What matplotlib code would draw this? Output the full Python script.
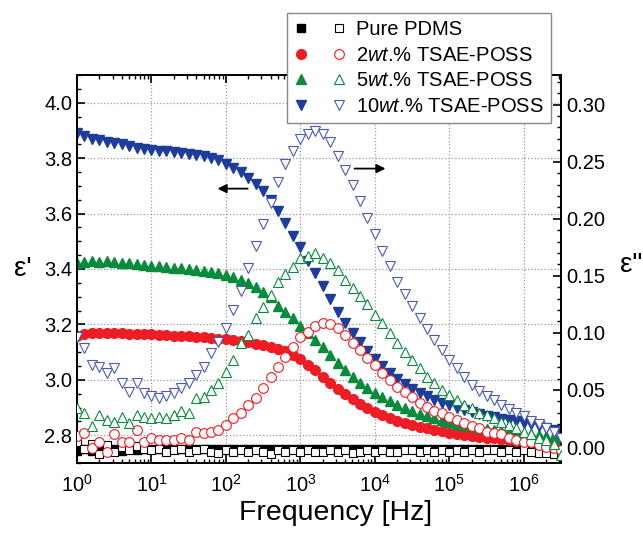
import numpy as np
import matplotlib
matplotlib.use("Agg")
import matplotlib.pyplot as plt
from matplotlib.legend_handler import HandlerTuple
from matplotlib.ticker import FixedLocator, MultipleLocator, NullFormatter, LogFormatterSciNotation

plt.rcParams['font.family'] = ['Liberation Sans', 'DejaVu Sans']
plt.rcParams['mathtext.fontset'] = 'custom'
plt.rcParams['mathtext.rm'] = 'Liberation Sans'
plt.rcParams['mathtext.it'] = 'Liberation Sans:italic'
plt.rcParams['mathtext.default'] = 'regular'

# ---------------- data ----------------
freq = 10 ** (np.arange(66) / 10.0)   # Hz, 10 points per decade

labels = ["Pure PDMS", r"2$\mathit{wt}$.% TSAE-POSS",
          r"5$\mathit{wt}$.% TSAE-POSS", r"10$\mathit{wt}$.% TSAE-POSS"]

eps1_pdms = [2.745, 2.750, 2.742, 2.755, 2.748, 2.752, 2.745, 2.750, 2.748, 2.751,
             2.750, 2.749, 2.751, 2.750, 2.752, 2.751, 2.750, 2.752, 2.751, 2.752,
             2.752, 2.751, 2.752, 2.752, 2.751, 2.752, 2.752, 2.752, 2.751, 2.752,
             2.752, 2.752, 2.752, 2.752, 2.752, 2.752, 2.752, 2.752, 2.752, 2.752,
             2.752, 2.752, 2.752, 2.752, 2.752, 2.752, 2.752, 2.752, 2.752, 2.752,
             2.752, 2.752, 2.752, 2.752, 2.752, 2.751, 2.751, 2.751, 2.750, 2.750,
             2.749, 2.748, 2.747, 2.746, 2.745, 2.743]
eps2_pdms = [0.004, -0.002, 0.003, -0.006, 0.002, -0.004, 0.000, -0.003, 0.001, -0.002,
             -0.003, -0.002, -0.004, -0.003, -0.002, -0.004, -0.003, -0.002, -0.004, -0.005,
             -0.003, -0.004, -0.003, -0.004, -0.003, -0.004, -0.006, -0.003, -0.004, -0.003,
             -0.004, -0.003, -0.004, -0.004, -0.003, -0.004, -0.003, -0.005, -0.004, -0.003,
             -0.004, -0.003, -0.004, -0.004, -0.003, -0.003, -0.004, -0.003, -0.004, -0.003,
             -0.004, -0.003, -0.004, -0.003, -0.004, -0.003, -0.003, -0.004, -0.003, -0.004,
             -0.003, -0.004, -0.005, -0.005, -0.006, -0.007]

eps1_2 = [3.160, 3.165, 3.168, 3.168, 3.170, 3.168, 3.168, 3.167, 3.166, 3.165,
          3.164, 3.163, 3.162, 3.160, 3.159, 3.157, 3.155, 3.153, 3.151, 3.149,
          3.146, 3.143, 3.140, 3.136, 3.131, 3.126, 3.120, 3.112, 3.103, 3.090,
          3.075, 3.055, 3.035, 3.012, 2.990, 2.968, 2.948, 2.930, 2.913, 2.898,
          2.885, 2.873, 2.862, 2.853, 2.845, 2.838, 2.831, 2.825, 2.820, 2.815,
          2.810, 2.806, 2.802, 2.798, 2.795, 2.792, 2.789, 2.786, 2.783, 2.780,
          2.777, 2.774, 2.771, 2.768, 2.765, 2.762]
eps2_2 = [0.010, 0.012, -0.001, 0.004, -0.004, 0.011, 0.004, 0.004, 0.015, 0.004,
          0.008, 0.006, 0.006, 0.006, 0.008, 0.006, 0.013, 0.012, 0.013, 0.015,
          0.019, 0.025, 0.030, 0.037, 0.043, 0.052, 0.061, 0.070, 0.079, 0.088,
          0.096, 0.101, 0.106, 0.109, 0.108, 0.104, 0.098, 0.091, 0.085, 0.078,
          0.072, 0.065, 0.059, 0.053, 0.048, 0.044, 0.039, 0.035, 0.032, 0.030,
          0.026, 0.024, 0.021, 0.018, 0.017, 0.013, 0.012, 0.011, 0.008, 0.006,
          0.004, 0.004, 0.002, 0.000, -0.001, -0.003]

eps1_5 = [3.420, 3.425, 3.430, 3.425, 3.428, 3.425, 3.420, 3.423, 3.418, 3.415,
          3.412, 3.410, 3.408, 3.405, 3.402, 3.400, 3.397, 3.393, 3.390, 3.386,
          3.380, 3.372, 3.362, 3.350, 3.335, 3.318, 3.300, 3.268, 3.245, 3.222,
          3.195, 3.170, 3.143, 3.117, 3.090, 3.060, 3.035, 3.010, 2.990, 2.972,
          2.952, 2.937, 2.922, 2.910, 2.898, 2.887, 2.878, 2.869, 2.861, 2.854,
          2.848, 2.842, 2.837, 2.832, 2.828, 2.824, 2.820, 2.817, 2.814, 2.811,
          2.808, 2.805, 2.802, 2.799, 2.796, 2.792]
eps2_5 = [0.034, 0.030, 0.018, 0.028, 0.024, 0.022, 0.026, 0.021, 0.028, 0.026,
          0.025, 0.026, 0.025, 0.028, 0.032, 0.030, 0.043, 0.044, 0.050, 0.056,
          0.066, 0.076, 0.091, 0.098, 0.113, 0.123, 0.133, 0.145, 0.152, 0.158,
          0.166, 0.167, 0.170, 0.166, 0.161, 0.155, 0.146, 0.139, 0.132, 0.125,
          0.116, 0.109, 0.100, 0.091, 0.083, 0.076, 0.069, 0.061, 0.056, 0.050,
          0.046, 0.041, 0.037, 0.034, 0.030, 0.028, 0.025, 0.022, 0.019, 0.017,
          0.013, 0.011, 0.008, 0.006, 0.003, -0.007]

eps1_10 = [3.892, 3.880, 3.870, 3.867, 3.860, 3.855, 3.850, 3.845, 3.838, 3.834,
           3.830, 3.827, 3.824, 3.822, 3.820, 3.816, 3.812, 3.808, 3.800, 3.793,
           3.780, 3.765, 3.750, 3.728, 3.708, 3.683, 3.650, 3.610, 3.565, 3.520,
           3.478, 3.430, 3.387, 3.340, 3.290, 3.245, 3.205, 3.170, 3.135, 3.105,
           3.077, 3.050, 3.025, 3.003, 2.985, 2.968, 2.953, 2.940, 2.928, 2.918,
           2.908, 2.899, 2.891, 2.884, 2.877, 2.871, 2.865, 2.860, 2.855, 2.850,
           2.845, 2.840, 2.834, 2.828, 2.820, 2.812]
eps2_10 = [0.096, 0.087, 0.072, 0.070, 0.065, 0.069, 0.056, 0.048, 0.056, 0.047,
           0.045, 0.043, 0.045, 0.047, 0.052, 0.056, 0.063, 0.070, 0.082, 0.092,
           0.104, 0.120, 0.137, 0.157, 0.176, 0.195, 0.214, 0.232, 0.248, 0.259,
           0.270, 0.274, 0.277, 0.274, 0.267, 0.255, 0.243, 0.230, 0.216, 0.201,
           0.187, 0.172, 0.159, 0.145, 0.134, 0.124, 0.113, 0.103, 0.094, 0.085,
           0.076, 0.069, 0.061, 0.054, 0.049, 0.045, 0.041, 0.037, 0.033, 0.030,
           0.027, 0.023, 0.020, 0.017, 0.013, 0.008]

x_major = [1, 10, 100, 1e3, 1e4, 1e5, 1e6]

# ---------------- style ----------------
c_black = '#000000'
c_red = '#EE1C25'
c_green = '#0A8A3C'
c_blue = '#1E3D9A'
c_blue_open = '#4A5AB0'

fig = plt.figure(figsize=(6.43, 5.34), dpi=100)
ax = fig.add_axes([77/643, 1 - 463/534, (561-77)/643, (463-75)/534])
ax2 = ax.twinx()

ms_sq, ms_c, ms_t = 6.0, 7.0, 7.5
mew = 0.8

h1 = ax.plot(freq, eps1_pdms, 's', color=c_black, ms=ms_sq, mec=c_black, zorder=3)[0]
h2 = ax.plot(freq, eps1_2, 'o', color=c_red, ms=ms_c, mec=c_red, zorder=3)[0]
h3 = ax.plot(freq, eps1_5, '^', color=c_green, ms=ms_t, mec=c_green, zorder=3)[0]
h4 = ax.plot(freq, eps1_10, 'v', color=c_blue, ms=ms_t, mec=c_blue, zorder=3)[0]

o1 = ax2.plot(freq, eps2_pdms, 's', mfc='white', mec=c_black, ms=ms_sq, mew=mew, zorder=3)[0]
o2 = ax2.plot(freq, eps2_2, 'o', mfc='white', mec=c_red, ms=ms_c, mew=mew, zorder=3)[0]
o3 = ax2.plot(freq, eps2_5, '^', mfc='white', mec=c_green, ms=ms_t, mew=mew, zorder=3)[0]
o4 = ax2.plot(freq, eps2_10, 'v', mfc='white', mec=c_blue_open, ms=ms_t, mew=mew, zorder=3)[0]

ax.set_xscale('log')
ax.set_xlim(1, 10 ** 6.5)
ax.set_ylim(2.7, 4.1)
ax2.set_ylim(-0.014, 0.326)

ax.yaxis.set_major_locator(FixedLocator([2.8, 3.0, 3.2, 3.4, 3.6, 3.8, 4.0]))
ax.yaxis.set_minor_locator(MultipleLocator(0.05))
ax2.yaxis.set_major_locator(FixedLocator([0.0, 0.05, 0.10, 0.15, 0.20, 0.25, 0.30]))
ax2.yaxis.set_minor_locator(MultipleLocator(0.01))
ax.yaxis.set_major_formatter(matplotlib.ticker.FormatStrFormatter('%.1f'))
ax2.yaxis.set_major_formatter(matplotlib.ticker.FormatStrFormatter('%.2f'))
x_minor = [m * d for d in x_major for m in range(2, 10) if m * d < 10 ** 6.5]
ax.xaxis.set_major_locator(FixedLocator(x_major))
ax.xaxis.set_major_formatter(LogFormatterSciNotation())
ax.xaxis.set_minor_locator(FixedLocator(x_minor))
ax.xaxis.set_minor_formatter(NullFormatter())

ax.grid(True, which='major', axis='both', color='#9a9a9a', linestyle=':', linewidth=0.9)
ax.set_axisbelow(True)

fs_tick = 14.5
ax.tick_params(axis='both', which='major', direction='in', length=6, width=1.2,
               labelsize=fs_tick, top=True, right=False)
ax.tick_params(axis='both', which='minor', direction='in', length=3, width=1.0,
               top=True, right=False)
ax.tick_params(axis='x', which='major', pad=8)
ax2.tick_params(axis='y', which='major', direction='in', length=6, width=1.2,
                labelsize=fs_tick)
ax2.tick_params(axis='y', which='minor', direction='in', length=3, width=1.0)
for sp in ax.spines.values():
    sp.set_linewidth(1.4)
for sp in ax2.spines.values():
    sp.set_linewidth(1.4)

ax.set_xlabel('Frequency [Hz]', fontsize=20.5, va='center')
ax.xaxis.set_label_coords(0.535, -0.128)
ax.set_ylabel("ε'", fontsize=20, rotation=0, ha='center', va='center')
ax.yaxis.set_label_coords(-0.112, 0.50)
ax2.set_ylabel('ε"', fontsize=20, rotation=0, ha='center', va='center')
ax2.yaxis.set_label_coords(1.145, 0.51)

# arrows indicating axis assignment
ax.annotate('', xy=(10 ** 1.85, 3.69), xytext=(10 ** 2.33, 3.69),
            arrowprops=dict(arrowstyle='-|>', color='black', lw=1.3, mutation_scale=13))
ax2.annotate('', xy=(10 ** 4.18, 0.244), xytext=(10 ** 3.69, 0.244),
             arrowprops=dict(arrowstyle='-|>', color='black', lw=1.3, mutation_scale=13))

leg = fig.legend([(h1, o1), (h2, o2), (h3, o3), (h4, o4)], labels,
                 handler_map={tuple: HandlerTuple(ndivide=None, pad=1.2)},
                 loc='upper left', bbox_to_anchor=(287/643, 1 - 13/534),
                 fontsize=14.5, frameon=True, fancybox=False, framealpha=1,
                 edgecolor='#888888', handlelength=2.6, handletextpad=0.5,
                 labelspacing=0.33, borderpad=0.35, borderaxespad=0.0)
leg.get_frame().set_linewidth(1.0)

fig.savefig('out.png', dpi=100)
